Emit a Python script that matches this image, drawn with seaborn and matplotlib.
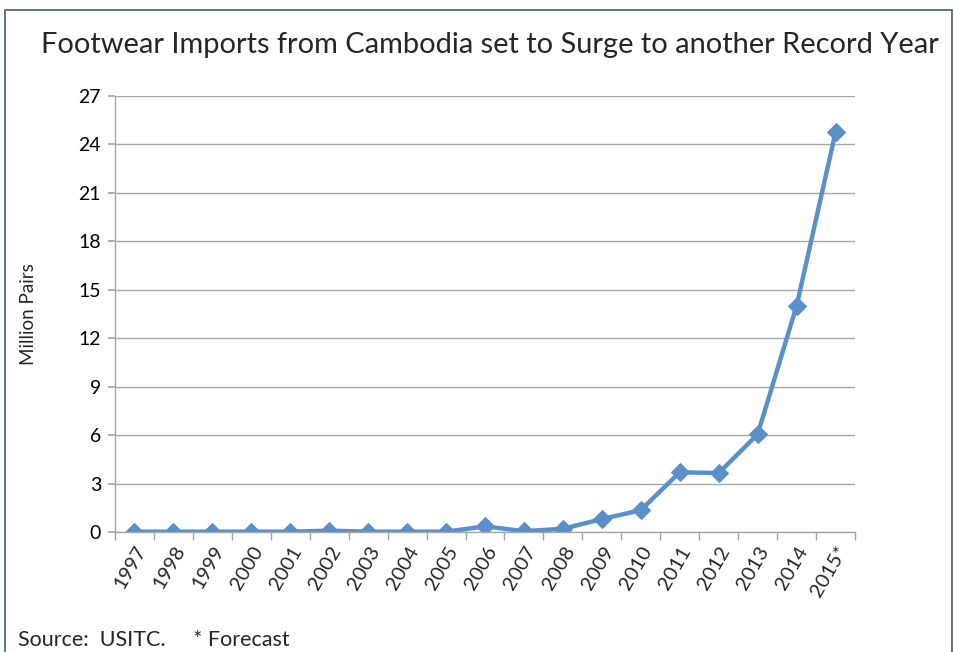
import matplotlib
matplotlib.use("Agg")
import matplotlib.pyplot as plt
import numpy as np
import pandas as pd
import seaborn as sns
from matplotlib.patches import Rectangle

years = ["1997", "1998", "1999", "2000", "2001", "2002", "2003", "2004", "2005",
         "2006", "2007", "2008", "2009", "2010", "2011", "2012", "2013", "2014", "2015*"]
million_pairs = [0.02, 0.02, 0.02, 0.02, 0.02, 0.08, 0.02, 0.02, 0.02,
                 0.35, 0.05, 0.2, 0.8, 1.35, 3.7, 3.65, 6.05, 14.0, 24.75]

LINE_COLOR = "#5B8FC9"
GRID_COLOR = "#A6A6A6"

df = pd.DataFrame({"pos": np.arange(len(years)), "value": million_pairs})

sns.set_theme(style="white")
plt.rcParams["font.family"] = ["Lato", "DejaVu Sans"]

W, H = 954, 652
fig = plt.figure(figsize=(W / 100, H / 100), dpi=100)
ax = fig.add_axes([115 / W, (H - 532) / H, 740 / W, 436 / H])

sns.lineplot(data=df, x="pos", y="value", ax=ax, color=LINE_COLOR, linewidth=3.2,
             marker="D", markersize=9, markeredgecolor=LINE_COLOR)

ax.set_xlim(-0.5, len(years) - 0.5)
ax.set_ylim(0, 27)
ax.set_yticks(np.arange(0, 28, 3))
ax.tick_params(axis="y", labelsize=14, length=5, direction="out",
               left=True, pad=5, color=GRID_COLOR, labelcolor="black")
ax.set_xticks(np.arange(len(years)))
ax.set_xticklabels(years, rotation=60, ha="right", rotation_mode="anchor", fontsize=14.5)
ax.tick_params(axis="x", which="major", length=0, pad=8)
ax.set_xticks(np.arange(-0.5, len(years), 1), minor=True)
ax.tick_params(axis="x", which="minor", length=6, color=GRID_COLOR, bottom=True)
ax.grid(axis="y", color=GRID_COLOR, linewidth=1)
ax.grid(axis="x", visible=False)
for side in ["top", "right"]:
    ax.spines[side].set_visible(False)
for side in ["left", "bottom"]:
    ax.spines[side].set_color(GRID_COLOR)
    ax.spines[side].set_linewidth(1)
ax.set_xlabel("")
ax.set_ylabel("Million Pairs", fontsize=13.5, labelpad=30)

fig.text(490 / W, 1 - 45 / H, "Footwear Imports from Cambodia set to Surge to another Record Year",
         ha="center", va="center", fontsize=20.9)
fig.text(18 / W, 1 - 640 / H, "Source:  USITC.     * Forecast", ha="left", va="center", fontsize=15.5)

fig.patches.append(Rectangle((5 / W, -0.01), (952 - 5) / W, (H - 10) / H + 0.01,
                             transform=fig.transFigure, fill=False,
                             edgecolor="#4A6B8C", linewidth=1.3))

fig.savefig("out.png", dpi=100)
